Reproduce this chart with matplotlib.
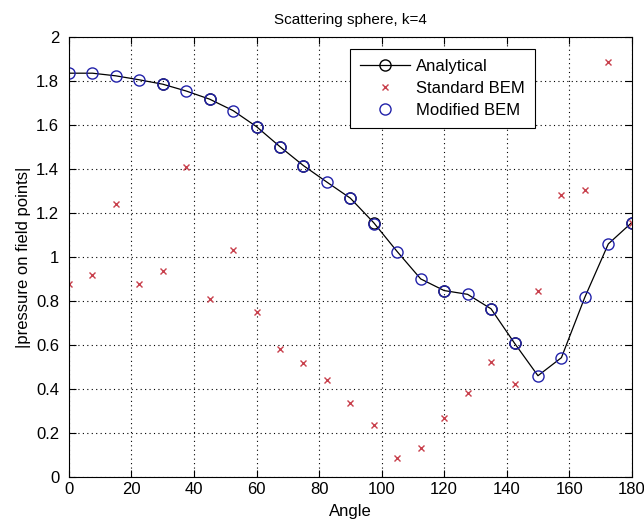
import matplotlib.pyplot as plt
import numpy as np

angles = [0, 7.5, 15, 22.5, 30, 37.5, 45, 52.5, 60, 67.5, 75, 82.5, 90,
          97.5, 105, 112.5, 120, 127.5, 135, 142.5, 150, 157.5, 165, 172.5, 180]
analytical = [1.835, 1.835, 1.823, 1.805, 1.785, 1.754, 1.717, 1.665, 1.592,
              1.501, 1.415, 1.340, 1.267, 1.155, 1.024, 0.900, 0.847, 0.830,
              0.764, 0.608, 0.460, 0.542, 0.817, 1.059, 1.156]
standard_bem = [0.876, 0.918, 1.241, 0.877, 0.936, 1.408, 0.808, 1.032, 0.749,
                0.582, 0.517, 0.440, 0.335, 0.236, 0.085, 0.130, 0.270, 0.383,
                0.524, 0.423, 0.847, 1.280, 1.305, 1.888, 1.156]
modified_bem = [1.835, 1.835, 1.823, 1.805, 1.785, 1.754, 1.717, 1.665, 1.592,
                1.501, 1.415, 1.340, 1.267, 1.150, 1.024, 0.900, 0.847, 0.830,
                0.764, 0.608, 0.460, 0.542, 0.817, 1.059, 1.156]
# where the black analytical circles show through
analytical_marks = [4, 6, 8, 9, 10, 12, 13, 16, 18, 19, 24]

plt.rcParams['font.family'] = ['Liberation Sans', 'DejaVu Sans']

fig = plt.figure(figsize=(6.44, 5.27), dpi=100)
ax = fig.add_axes([0.107, 0.095, 0.874, 0.835])

ax.plot(angles, analytical, color='black', linewidth=0.9, marker='o', markersize=8,
        markerfacecolor='none', markeredgecolor='black', markeredgewidth=1.0,
        markevery=analytical_marks, label='Analytical')
ax.plot(angles, standard_bem, linestyle='none', marker='x', markersize=5,
        markeredgecolor='#c8404c', markeredgewidth=1.0, label='Standard BEM')
ax.plot(angles, modified_bem, linestyle='none', marker='o', markersize=8,
        markerfacecolor='none', markeredgecolor='#2222aa', markeredgewidth=1.0,
        label='Modified BEM')

ax.set_xlim(0, 180)
ax.set_ylim(0, 2)
ax.set_xticks(np.arange(0, 181, 20))
ax.set_yticks(np.arange(0, 2.01, 0.2))
ax.set_yticklabels(['0', '0.2', '0.4', '0.6', '0.8', '1', '1.2', '1.4', '1.6', '1.8', '2'])
ax.tick_params(direction='in', top=True, right=True, length=5, labelsize=12)
ax.tick_params(axis='y', pad=7)
ax.grid(True, color='black', linestyle=(0, (1, 3)), linewidth=0.8)

ax.set_title('Scattering sphere, k=4', fontsize=11, pad=9)
ax.set_xlabel('Angle', fontsize=12, labelpad=5)
ax.set_ylabel('|pressure on field points|', fontsize=12, labelpad=4)

leg = ax.legend(loc='upper left', bbox_to_anchor=(0.499, 0.972), fontsize=12,
                fancybox=False, framealpha=1, edgecolor='black',
                borderaxespad=0, handlelength=3.0, borderpad=0.6, labelspacing=0.4,
                handletextpad=0.4)
leg.get_frame().set_linewidth(0.8)

plt.savefig('out.png', dpi=100)
